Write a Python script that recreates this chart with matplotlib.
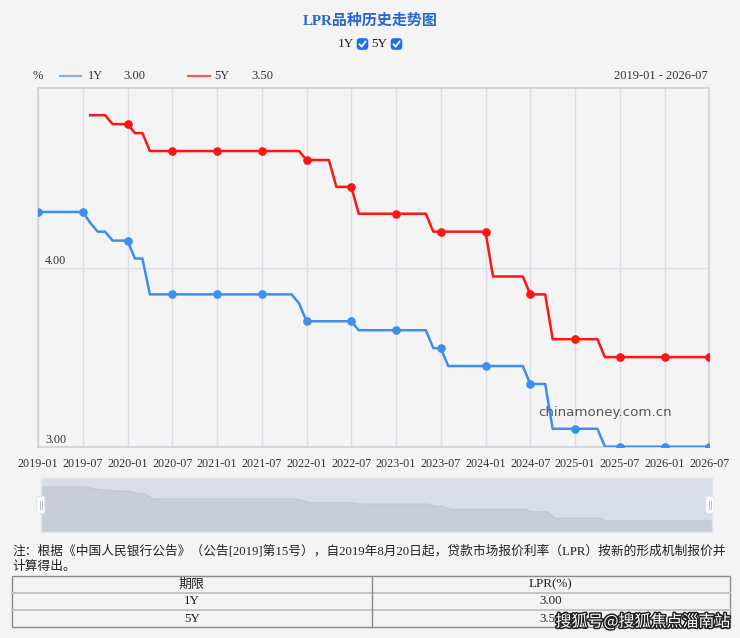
import matplotlib
matplotlib.use("Agg")
import matplotlib.pyplot as plt
from matplotlib.patches import FancyBboxPatch, Rectangle
import matplotlib.patheffects as pe
import numpy as np

# ---------------- data ----------------
months = [f"{y}-{m:02d}" for y in range(2019, 2027) for m in range(1, 13)][:91]
tick_labels = ["2019-01", "2019-07", "2020-01", "2020-07", "2021-01", "2021-07",
               "2022-01", "2022-07", "2023-01", "2023-07", "2024-01", "2024-07",
               "2025-01", "2025-07", "2026-01", "2026-07"]

lpr_1y = [4.31, 4.31, 4.31, 4.31, 4.31, 4.31, 4.31, 4.25, 4.20, 4.20, 4.15, 4.15,   # 2019
          4.15, 4.05, 4.05, 3.85, 3.85, 3.85, 3.85, 3.85, 3.85, 3.85, 3.85, 3.85,   # 2020
          3.85, 3.85, 3.85, 3.85, 3.85, 3.85, 3.85, 3.85, 3.85, 3.85, 3.85, 3.80,   # 2021
          3.70, 3.70, 3.70, 3.70, 3.70, 3.70, 3.70, 3.65, 3.65, 3.65, 3.65, 3.65,   # 2022
          3.65, 3.65, 3.65, 3.65, 3.65, 3.55, 3.55, 3.45, 3.45, 3.45, 3.45, 3.45,   # 2023
          3.45, 3.45, 3.45, 3.45, 3.45, 3.45, 3.35, 3.35, 3.35, 3.10, 3.10, 3.10,   # 2024
          3.10, 3.10, 3.10, 3.10, 3.00, 3.00, 3.00, 3.00, 3.00, 3.00, 3.00, 3.00,   # 2025
          3.00, 3.00, 3.00, 3.00, 3.00, 3.00, 3.00]                                 # 2026

lpr_5y = [None, None, None, None, None, None, None, 4.85, 4.85, 4.85, 4.80, 4.80,   # 2019
          4.80, 4.75, 4.75, 4.65, 4.65, 4.65, 4.65, 4.65, 4.65, 4.65, 4.65, 4.65,   # 2020
          4.65, 4.65, 4.65, 4.65, 4.65, 4.65, 4.65, 4.65, 4.65, 4.65, 4.65, 4.65,   # 2021
          4.60, 4.60, 4.60, 4.60, 4.45, 4.45, 4.45, 4.30, 4.30, 4.30, 4.30, 4.30,   # 2022
          4.30, 4.30, 4.30, 4.30, 4.30, 4.20, 4.20, 4.20, 4.20, 4.20, 4.20, 4.20,   # 2023
          4.20, 3.95, 3.95, 3.95, 3.95, 3.95, 3.85, 3.85, 3.85, 3.60, 3.60, 3.60,   # 2024
          3.60, 3.60, 3.60, 3.60, 3.50, 3.50, 3.50, 3.50, 3.50, 3.50, 3.50, 3.50,   # 2025
          3.50, 3.50, 3.50, 3.50, 3.50, 3.50, 3.50]                                 # 2026

latest_1y = "3.00"
latest_5y = "3.50"
y_ticks = [3.00, 4.00]
range_label = "2019-01 - 2026-07"
note_line1 = "注：根据《中国人民银行公告》（公告[2019]第15号），自2019年8月20日起，贷款市场报价利率（LPR）按新的形成机制报价并"
note_line2 = "计算得出。"
table_header = ["期限", "LPR(%)"]
table_rows = [["1Y", "3.00"], ["5Y", "3.50"]]

# ---------------- style ----------------
BG = "#f4f4f4"
BLUE = "#3d8eee"
RED = "#ff1414"
TXT = "#333333"
SERIF = ["Liberation Serif", "Noto Sans CJK SC", "DejaVu Sans"]
CJK = ["Noto Sans CJK SC", "DejaVu Sans"]
plt.rcParams["font.family"] = SERIF

W, H = 740, 638
fig = plt.figure(figsize=(W / 100, H / 100), dpi=100, facecolor=BG)


def overlay(z):
    a = fig.add_axes([0, 0, 1, 1], zorder=z)
    a.set_xlim(0, W)
    a.set_ylim(H, 0)
    a.axis("off")
    a.patch.set_alpha(0)
    return a


ov = overlay(0)
top = overlay(10)


def fr(x0, y0, x1, y1):
    return [x0 / W, 1 - y1 / H, (x1 - x0) / W, (y1 - y0) / H]


# ---------------- title & toggles ----------------
ov.text(370, 21, "LPR品种历史走势图", ha="center", va="center", fontsize=10.8,
        fontweight="bold", color="#2867cf", family=SERIF)
ov.text(346, 44, "1Y", ha="center", va="center", fontsize=9.5, color="#222", family=SERIF)
ov.text(379, 44, "5Y", ha="center", va="center", fontsize=9.5, color="#222", family=SERIF)
for cx in (362.5, 396.5):
    ov.add_patch(FancyBboxPatch((cx - 5, 39), 10, 10, boxstyle="round,pad=0.8,rounding_size=3",
                                fc="#1a73e8", ec="none", zorder=3))
    ov.plot([cx - 3, cx - 0.8, cx + 3.2], [44.2, 46.6, 41.4], color="white", lw=1.3,
            solid_capstyle="round", solid_joinstyle="round", zorder=4)

# ---------------- legend row ----------------
ov.text(38, 76, "%", ha="center", va="center", fontsize=9, color=TXT)
ov.plot([60, 81], [76, 76], color="#7fb2f0", lw=1.6)
ov.text(88, 76, "1Y", ha="left", va="center", fontsize=9, color=TXT)
ov.text(123, 76, latest_1y, ha="left", va="center", fontsize=9, color=TXT)
ov.plot([188, 210], [76, 76], color="#f55a5a", lw=1.6)
ov.text(214, 76, "5Y", ha="left", va="center", fontsize=9, color=TXT)
ov.text(251, 76, latest_5y, ha="left", va="center", fontsize=9, color=TXT)
ov.text(708, 76, range_label, ha="right", va="center", fontsize=9, color=TXT)

# ---------------- main chart ----------------
ax = fig.add_axes(fr(38, 88.3, 709.3, 446.7), zorder=2)
ax.set_facecolor(BG)
x = np.arange(len(months))
y1 = np.array(lpr_1y, dtype=float)
y5 = np.array([np.nan if v is None else v for v in lpr_5y], dtype=float)

ax.set_xlim(0, len(months) - 1)
ax.set_ylim(3.0, 5.0)
tick_pos = [months.index(t) for t in tick_labels]
ax.set_xticks(tick_pos)
ax.set_xticklabels(tick_labels, fontsize=8.7, color=TXT)
ax.set_yticks([])
ax.tick_params(axis="x", length=0, pad=8)
for p in tick_pos:
    ax.axvline(p, color="#dcdfe7", lw=1.0, zorder=0)
ax.axhline(4.0, color="#dcdfe7", lw=1.0, zorder=0)
for s in ax.spines.values():
    s.set_color("#cfd2da")
    s.set_linewidth(1.2)

for yt in y_ticks:
    ax.annotate(f"{yt:.2f}", xy=(0, yt), xytext=(5, 4.8), textcoords="offset points",
                ha="left", va="center", fontsize=8.7, color=TXT)

ax.plot(x, y1, color=BLUE, lw=1.8, zorder=3)
ax.plot(x, y5, color=RED, lw=1.8, zorder=3)
mk = np.array(tick_pos)
ax.plot(mk, y1[mk], "o", color=BLUE, ms=5.2, zorder=4, linestyle="none")
m5 = mk[~np.isnan(y5[mk])]
ax.plot(m5, y5[m5], "o", color=RED, ms=5.2, zorder=4, linestyle="none")

ax.text(0.844, 0.096, "chinamoney.com.cn", transform=ax.transAxes, ha="center", va="center",
        fontsize=9.6, color="#555555", family=["DejaVu Sans"])

# ---------------- slider (data zoom) ----------------
sl = fig.add_axes(fr(40.7, 478, 711.7, 532), zorder=2)
sl.set_facecolor("#d9dde7")
sl.set_xlim(0, len(months) - 1)
sl.set_ylim(2.575, 4.658)
sl.fill_between(x, y1, 2.5, color="#c8cdd8", lw=0)
sl.plot(x, y1, color="#bfc4cf", lw=0.8)
sl.set_xticks([])
sl.set_yticks([])
for s in sl.spines.values():
    s.set_color("#e2e5ec")
    s.set_linewidth(1.0)

for hx in (40.7, 710):
    top.add_patch(FancyBboxPatch((hx - 3.5, 497), 7, 16, boxstyle="round,pad=0.6,rounding_size=2",
                                 fc="white", ec="#dfe2e8", lw=0.6, zorder=5))
    top.plot([hx - 1, hx - 1], [501, 509], color="#b8bcc6", lw=0.7, zorder=6)
    top.plot([hx + 1, hx + 1], [501, 509], color="#b8bcc6", lw=0.7, zorder=6)

# ---------------- note ----------------
ov.text(12, 551, note_line1, ha="left", va="center", fontsize=9.15, color="#222", family=SERIF)
ov.text(12, 567, note_line2, ha="left", va="center", fontsize=9.15, color="#222", family=SERIF)

# ---------------- table ----------------
tx0, tx1, tmid = 12, 730, 371.5
rows_y = [576, 592.7, 610.3, 627]
ov.add_patch(Rectangle((tx0, rows_y[0]), tx1 - tx0, rows_y[-1] - rows_y[0], fc="none",
                       ec="#8a8a8a", lw=1.0, zorder=2))
for ry in rows_y[1:-1]:
    ov.plot([tx0, tx1], [ry, ry], color="#c4c4c4", lw=1.4, zorder=2)
ov.plot([tmid, tmid], [rows_y[0], rows_y[-1]], color="#8a8a8a", lw=1.0, zorder=2)
all_rows = [table_header] + table_rows
for i, r in enumerate(all_rows):
    cy = (rows_y[i] + rows_y[i + 1]) / 2
    ov.text((tx0 + tmid) / 2, cy, r[0], ha="center", va="center", fontsize=9.4, color="#222")
    ov.text((tmid + tx1) / 2, cy, r[1], ha="center", va="center", fontsize=9.4, color="#222")

# watermark
top.text(643, 622, "搜狐号@搜狐焦点淄南站", ha="center", va="center", fontsize=11.5,
         color="white", family=CJK, zorder=8,
         path_effects=[pe.withStroke(linewidth=2.2, foreground="#222222")])

fig.savefig("out.png", dpi=100, facecolor=BG)
